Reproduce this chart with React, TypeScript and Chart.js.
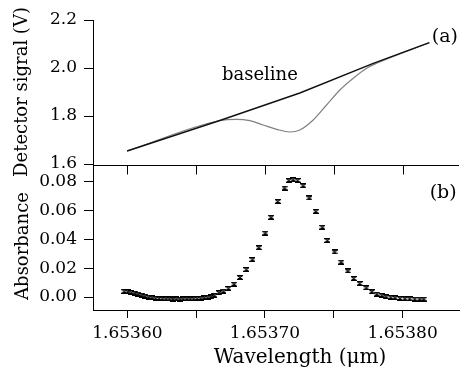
import React, { useEffect, useRef } from 'react';
import { Chart, registerables } from 'chart.js';
Chart.register(...registerables);

const FONT = "'DejaVu Serif', 'Liberation Serif', serif";

const wavelengthTicks = [1.6536, 1.65365, 1.6537, 1.65375, 1.6538];
const wavelengthTickLabels = ['1.65360', '', '1.65370', '', '1.65380'];
const signalTicks = [1.6, 1.8, 2.0, 2.2];
const absorbanceTicks = [0, 0.02, 0.04, 0.06, 0.08];

const baselineWavelength = [1.6535995, 1.6536662, 1.6537237, 1.6537765, 1.6538168];
const baselineVolts = [1.6542, 1.7813, 1.8958, 2.0196, 2.1054];

const signalWavelength = [1.6535995, 1.6536662, 1.6536782, 1.6536878, 1.6536973, 1.653707, 1.6537165, 1.6537237, 1.6537333, 1.6537429, 1.6537525, 1.6537621, 1.6537717, 1.6537789, 1.6538168];
const signalVolts = [1.6542, 1.7813, 1.7863, 1.7804, 1.7625, 1.7446, 1.7333, 1.7417, 1.7833, 1.8458, 1.9083, 1.9571, 1.9988, 2.0196, 2.1054];

const absWavelength = [
  1.6535978, 1.6536004, 1.6536029, 1.6536054, 1.6536079, 1.6536104, 1.6536129, 1.6536155, 1.653618, 1.6536205,
  1.653623, 1.6536255, 1.6536281, 1.6536306, 1.6536331, 1.6536356, 1.6536381, 1.6536406, 1.6536432, 1.6536457,
  1.6536482, 1.6536507, 1.6536532, 1.6536558, 1.6536583, 1.6536608, 1.6536633, 1.6536665, 1.6536698, 1.6536734,
  1.6536775,
  1.6536818, 1.6536865, 1.6536909, 1.6536955, 1.6537002, 1.6537045, 1.6537093, 1.6537142, 1.6537173, 1.6537205, 1.6537237,
  1.6537278, 1.6537322, 1.6537369, 1.6537417, 1.6537453, 1.6537506, 1.6537554, 1.6537602, 1.6537645, 1.6537688,
  1.6537736, 1.6537777, 1.6537813, 1.6537849, 1.653788, 1.6537914, 1.6537945, 1.6537981, 1.6538017, 1.6538052,
  1.6538088, 1.6538124, 1.6538153,
];
const absValues = [
  0.004, 0.0037, 0.0032, 0.0027, 0.002, 0.0013, 0.0006, 0.0, -0.0005, -0.0008,
  -0.001, -0.0012, -0.0013, -0.0013, -0.0014, -0.0013, -0.0014, -0.0013, -0.0012, -0.0013,
  -0.0012, -0.001, -0.0008, -0.0005, -0.0002, 0.0002, 0.0012, 0.003, 0.0041, 0.006,
  0.009,
  0.0136, 0.0191, 0.026, 0.0343, 0.0444, 0.0554, 0.0664, 0.0757, 0.081, 0.0815, 0.081,
  0.0773, 0.0688, 0.0595, 0.0485, 0.0393, 0.0313, 0.0243, 0.0181, 0.0129, 0.0094,
  0.0064, 0.0037, 0.0021, 0.0012, 0.0002, -0.0002, -0.0005, -0.0009, -0.0012, -0.0012,
  -0.0014, -0.0014, -0.0014,
];

const X_MIN = 1.653575;
const X_MAX = 1.653841;

function makeMarker(): HTMLCanvasElement {
  const c = document.createElement('canvas');
  c.width = 6;
  c.height = 5;
  const g = c.getContext('2d')!;
  g.strokeStyle = '#000';
  g.lineWidth = 1.2;
  g.beginPath();
  g.moveTo(0, 0.5); g.lineTo(6, 0.5);
  g.moveTo(0, 4.5); g.lineTo(6, 4.5);
  g.moveTo(0.5, 0.5); g.lineTo(5.5, 4.5);
  g.moveTo(5.5, 0.5); g.lineTo(0.5, 4.5);
  g.stroke();
  return c;
}

const noPadY = (s: any) => { s.width = 93; s.paddingTop = 0; s.paddingBottom = 0; };

export default function App() {
  const topRef = useRef<HTMLCanvasElement>(null);
  const botRef = useRef<HTMLCanvasElement>(null);

  useEffect(() => {
    Chart.defaults.font.family = FONT;
    Chart.defaults.color = '#000';

    const tickFont = { family: FONT, size: 17 };

    const topLabels = {
      id: 'topLabels',
      afterDraw(chart: any) {
        const { ctx } = chart;
        const xs = chart.scales.x;
        const ys = chart.scales.y;
        ctx.save();
        ctx.fillStyle = '#000';
        ctx.textAlign = 'center';
        ctx.textBaseline = 'middle';
        ctx.font = `18px ${FONT}`;
        ctx.fillText('baseline', xs.getPixelForValue(1.653695), ys.getPixelForValue(1.971));
        ctx.font = `19px ${FONT}`;
        ctx.fillText('(a)', xs.getPixelForValue(1.653828), ys.getPixelForValue(2.129));
        ctx.restore();
      },
    };

    const top = new Chart(topRef.current!, {
      type: 'line',
      data: {
        datasets: [
          {
            label: 'baseline',
            data: baselineWavelength.map((x, i) => ({ x, y: baselineVolts[i] })),
            borderColor: '#111',
            borderWidth: 1.4,
            pointRadius: 0,
            tension: 0,
          },
          {
            label: 'signal',
            data: signalWavelength.map((x, i) => ({ x, y: signalVolts[i] })),
            borderColor: '#808080',
            borderWidth: 1.2,
            pointRadius: 0,
            cubicInterpolationMode: 'monotone',
          },
        ],
      },
      options: {
        responsive: false,
        animation: false,
        events: [],
        layout: { padding: { top: 20, bottom: 12, right: 1, left: 0 } },
        plugins: { legend: { display: false }, tooltip: { enabled: false } },
        scales: {
          x: { type: 'linear', min: X_MIN, max: X_MAX, display: false },
          y: {
            type: 'linear',
            min: 1.6,
            max: 2.2,
            afterFit: noPadY,
            afterBuildTicks: (s: any) => { s.ticks = signalTicks.map((v) => ({ value: v })); },
            ticks: { font: tickFont, color: '#000', padding: 7, callback: (v: any) => Number(v).toFixed(1) },
            grid: { drawOnChartArea: false, tickLength: 9, tickColor: '#000' },
            border: { display: true, color: '#000', width: 1 },
            title: { display: true, text: 'Detector sigral (V)', font: { family: FONT, size: 18 }, color: '#000', padding: { top: 12, bottom: 0 } },
          },
        },
      },
      plugins: [topLabels],
    } as any);

    const botDecor = {
      id: 'botDecor',
      afterDraw(chart: any) {
        const { ctx, chartArea } = chart;
        const xs = chart.scales.x;
        const ys = chart.scales.y;
        ctx.save();
        ctx.strokeStyle = '#000';
        ctx.lineWidth = 1;
        ctx.beginPath();
        const yt = Math.round(chartArea.top) + 0.5;
        ctx.moveTo(chartArea.left, yt);
        ctx.lineTo(chartArea.right, yt);
        wavelengthTicks.forEach((v) => {
          const px = Math.round(xs.getPixelForValue(v)) + 0.5;
          ctx.moveTo(px, yt);
          ctx.lineTo(px, yt + 9);
        });
        ctx.stroke();
        ctx.fillStyle = '#000';
        ctx.textAlign = 'center';
        ctx.textBaseline = 'middle';
        ctx.font = `19px ${FONT}`;
        ctx.fillText('(b)', xs.getPixelForValue(1.6538295), ys.getPixelForValue(0.0724));
        ctx.font = `20px ${FONT}`;
        ctx.fillText('Wavelength (μm)', 300, chartArea.bottom + 48);
        ctx.font = `18px ${FONT}`;
        ctx.translate(23, 86);
        ctx.rotate(-Math.PI / 2);
        ctx.fillText('Absorbance', 0, 0);
        ctx.restore();
      },
    };

    const marker = makeMarker();

    const bot = new Chart(botRef.current!, {
      type: 'scatter',
      data: {
        datasets: [
          {
            label: 'absorbance',
            data: absWavelength.map((x, i) => ({ x, y: absValues[i] })),
            pointStyle: marker,
            pointRadius: 3,
            borderColor: '#000',
            backgroundColor: '#000',
          },
        ],
      },
      options: {
        responsive: false,
        animation: false,
        events: [],
        layout: { padding: { top: 4, bottom: 0, right: 1, left: 0 } },
        plugins: { legend: { display: false }, tooltip: { enabled: false } },
        scales: {
          x: {
            type: 'linear',
            min: X_MIN,
            max: X_MAX,
            afterFit: (s: any) => { s.height = 62; s.paddingLeft = 0; s.paddingRight = 0; },
            afterBuildTicks: (s: any) => { s.ticks = wavelengthTicks.map((v) => ({ value: v })); },
            ticks: {
              font: tickFont,
              color: '#000',
              padding: 5,
              maxRotation: 0,
              autoSkip: false,
              callback: (_v: any, i: number) => wavelengthTickLabels[i],
            },
            grid: { drawOnChartArea: false, tickLength: 8, tickColor: '#000' },
            border: { display: true, color: '#000', width: 1 },
          },
          y: {
            type: 'linear',
            min: -0.009,
            max: 0.0917,
            afterFit: noPadY,
            afterBuildTicks: (s: any) => { s.ticks = absorbanceTicks.map((v) => ({ value: v })); },
            ticks: { font: tickFont, color: '#000', padding: 7, callback: (v: any) => Number(v).toFixed(2) },
            grid: { drawOnChartArea: false, tickLength: 9, tickColor: '#000' },
            border: { display: true, color: '#000', width: 1 },
          },
        },
      },
      plugins: [botDecor],
    } as any);

    return () => {
      top.destroy();
      bot.destroy();
    };
  }, []);

  return (
    <div style={{ position: 'fixed', left: 0, top: 0, width: 464, height: 372, background: '#fff' }}>
      <canvas ref={topRef} width={464} height={176} style={{ position: 'absolute', left: 0, top: 0, width: 464, height: 176 }} />
      <canvas ref={botRef} width={464} height={212} style={{ position: 'absolute', left: 0, top: 160, width: 464, height: 212 }} />
    </div>
  );
}
